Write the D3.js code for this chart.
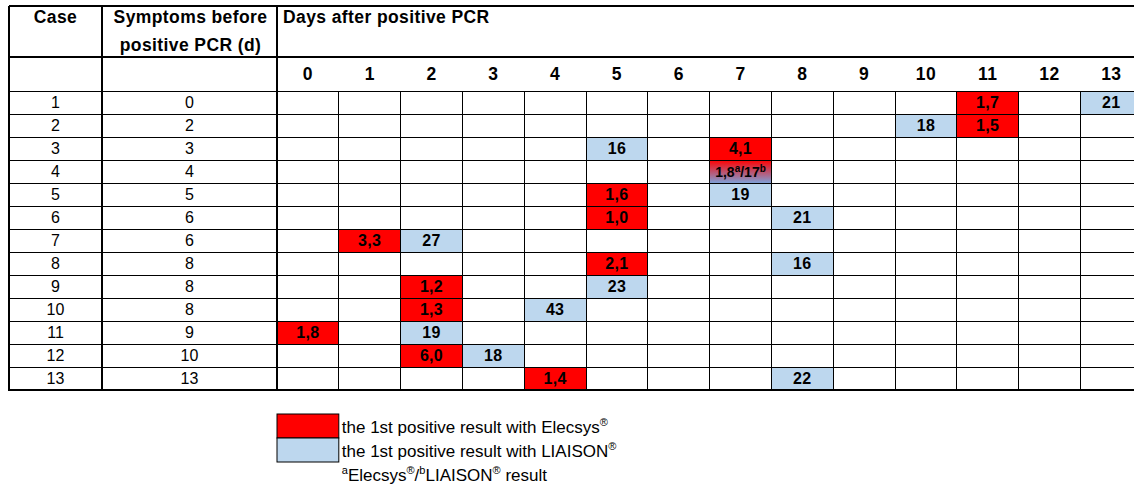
<!DOCTYPE html>
<html>
<head>
<meta charset="utf-8">
<script src="https://cdn.jsdelivr.net/npm/d3@7"></script>
<style>
  body { margin: 0; background: #fff; }
  svg { font-family: "Liberation Sans", Arial, sans-serif; }
</style>
</head>
<body>
<svg width="1134" height="491"></svg>
<script>
// table data
let cases = [1, 2, 3, 4, 5, 6, 7, 8, 9, 10, 11, 12, 13];
let symptoms = [0, 2, 3, 4, 5, 6, 6, 8, 8, 8, 9, 10, 13];
let days = d3.range(0, 14);

// first positive Elecsys result: [case, day, value]
let elecsys = [
  [1, 11, "1,7"], [2, 11, "1,5"], [3, 7, "4,1"], [5, 5, "1,6"],
  [6, 5, "1,0"], [7, 1, "3,3"], [8, 5, "2,1"], [9, 2, "1,2"],
  [10, 2, "1,3"], [11, 0, "1,8"], [12, 2, "6,0"], [13, 4, "1,4"]
];
// first positive LIAISON result: [case, day, value]
let liaison = [
  [1, 13, "21"], [2, 10, "18"], [3, 5, "16"], [5, 7, "19"],
  [6, 8, "21"], [7, 2, "27"], [8, 8, "16"], [9, 5, "23"],
  [10, 4, "43"], [11, 2, "19"], [12, 3, "18"], [13, 8, "22"]
];
// same day for both: [case, day, elecsys, liaison]
let both = [[4, 7, "1,8", "17"]];

let RED = "#ff0000";
let BLUE = "#bdd7ee";

let svg = d3.select("svg");

let xLeft = 9, colCase = 102, colSym = 277, yTop = 6, hdr1 = 57, hdr2 = 91, yBottom = 390;

var x = d3.scaleBand().domain(days).range([colSym, colSym + 14 * 61.8]);
var y = d3.scaleBand().domain(cases).range([hdr2, yBottom]);

// gradient for the combined cell
let grad = svg.append("defs").append("linearGradient")
  .attr("id", "mix").attr("x1", 0).attr("y1", 0).attr("x2", 0).attr("y2", 1);
grad.append("stop").attr("offset", "0%").attr("stop-color", RED);
grad.append("stop").attr("offset", "100%").attr("stop-color", "#7f9fd6");

// colored cells
let g = svg.append("g");
g.selectAll(".red").data(elecsys).enter().append("rect")
  .attr("x", d => x(d[1])).attr("y", d => y(d[0]))
  .attr("width", x.bandwidth()).attr("height", y.bandwidth())
  .attr("fill", RED);
g.selectAll(".blue").data(liaison).enter().append("rect")
  .attr("x", d => x(d[1])).attr("y", d => y(d[0]))
  .attr("width", x.bandwidth()).attr("height", y.bandwidth())
  .attr("fill", BLUE);
g.selectAll(".mix").data(both).enter().append("rect")
  .attr("x", d => x(d[1])).attr("y", d => y(d[0]))
  .attr("width", x.bandwidth()).attr("height", y.bandwidth())
  .attr("fill", "url(#mix)");

// grid lines
let lines = svg.append("g").attr("stroke", "#000").attr("shape-rendering", "crispEdges");
cases.forEach(c => {
  lines.append("line").attr("x1", xLeft).attr("x2", 1134)
    .attr("y1", y(c)).attr("y2", y(c)).attr("stroke-width", 1);
});
days.forEach(d => {
  if (d === 0) return;
  lines.append("line").attr("x1", x(d)).attr("x2", x(d))
    .attr("y1", hdr2).attr("y2", yBottom).attr("stroke-width", 1);
});
// thick lines
lines.append("line").attr("x1", xLeft).attr("x2", 1134).attr("y1", yTop).attr("y2", yTop).attr("stroke-width", 2);
lines.append("line").attr("x1", xLeft).attr("x2", 1134).attr("y1", hdr1).attr("y2", hdr1).attr("stroke-width", 2);
lines.append("line").attr("x1", xLeft - 1).attr("x2", 1134).attr("y1", yBottom).attr("y2", yBottom).attr("stroke-width", 2);
[xLeft, colCase, colSym].forEach(xx => {
  lines.append("line").attr("x1", xx).attr("x2", xx).attr("y1", yTop).attr("y2", yBottom).attr("stroke-width", 2);
});

// header text
let hdr = svg.append("g").attr("font-size", 17.5).attr("font-weight", "bold").attr("fill", "#000")
  .attr("letter-spacing", 0.4);
hdr.append("text").attr("x", (xLeft + colCase) / 2).attr("y", 23).attr("text-anchor", "middle").text("Case");
hdr.append("text").attr("x", (colCase + colSym) / 2 + 1).attr("y", 23).attr("text-anchor", "middle").text("Symptoms before");
hdr.append("text").attr("x", (colCase + colSym) / 2 + 1).attr("y", 51).attr("text-anchor", "middle").text("positive PCR (d)");
hdr.append("text").attr("x", colSym + 6).attr("y", 23).text("Days after positive PCR");
hdr.selectAll(".day").data(days).enter().append("text")
  .attr("x", d => x(d) + x.bandwidth() / 2).attr("y", 80)
  .attr("text-anchor", "middle").text(d => d);

// body text
let body = svg.append("g").attr("font-size", 16).attr("fill", "#000");
body.selectAll(".case").data(cases).enter().append("text")
  .attr("x", (xLeft + colCase) / 2).attr("y", d => y(d) + y.bandwidth() / 2 + 5.5)
  .attr("text-anchor", "middle").text(d => d);
body.selectAll(".sym").data(cases).enter().append("text")
  .attr("x", (colCase + colSym) / 2).attr("y", d => y(d) + y.bandwidth() / 2 + 5.5)
  .attr("text-anchor", "middle").text((d, i) => symptoms[i]);
body.selectAll(".val").data(elecsys.concat(liaison)).enter().append("text")
  .attr("font-weight", "bold").attr("letter-spacing", 0.3)
  .attr("x", d => x(d[1]) + x.bandwidth() / 2).attr("y", d => y(d[0]) + y.bandwidth() / 2 + 5.5)
  .attr("text-anchor", "middle").text(d => d[2]);

let mixT = body.selectAll(".mixt").data(both).enter().append("text")
  .attr("font-weight", "bold").attr("font-size", 14)
  .attr("x", d => x(d[1]) + x.bandwidth() / 2).attr("y", d => y(d[0]) + y.bandwidth() / 2 + 5)
  .attr("text-anchor", "middle");
mixT.append("tspan").text(d => d[2]);
mixT.append("tspan").attr("font-size", 10).attr("dy", -5).text("a");
mixT.append("tspan").attr("dy", 5).text(d => "/" + d[3]);
mixT.append("tspan").attr("font-size", 10).attr("dy", -5).text("b");

// legend
let lg = svg.append("g");
lg.append("rect").attr("x", x(0)).attr("y", 414).attr("width", x.bandwidth()).attr("height", 24)
  .attr("fill", RED).attr("stroke", "#000").attr("stroke-width", 1);
lg.append("rect").attr("x", x(0)).attr("y", 438).attr("width", x.bandwidth()).attr("height", 24)
  .attr("fill", BLUE).attr("stroke", "#000").attr("stroke-width", 1);

let lt = lg.append("g").attr("font-size", 17).attr("fill", "#000");
let tx = x(0) + x.bandwidth() + 3;
let t1 = lt.append("text").attr("x", tx).attr("y", 433);
t1.append("tspan").text("the 1st positive result with Elecsys");
t1.append("tspan").attr("font-size", 11).attr("dy", -7).text("®");
let t2 = lt.append("text").attr("x", tx).attr("y", 457);
t2.append("tspan").text("the 1st positive result with LIAISON");
t2.append("tspan").attr("font-size", 11).attr("dy", -7).text("®");
let t3 = lt.append("text").attr("x", tx).attr("y", 481);
t3.append("tspan").attr("font-size", 11).attr("dy", -7).text("a");
t3.append("tspan").attr("dy", 7).text("Elecsys");
t3.append("tspan").attr("font-size", 11).attr("dy", -7).text("®");
t3.append("tspan").attr("dy", 7).text("/");
t3.append("tspan").attr("font-size", 11).attr("dy", -7).text("b");
t3.append("tspan").attr("dy", 7).text("LIAISON");
t3.append("tspan").attr("font-size", 11).attr("dy", -7).text("®");
t3.append("tspan").attr("dy", 7).text(" result");
</script>
</body>
</html>
